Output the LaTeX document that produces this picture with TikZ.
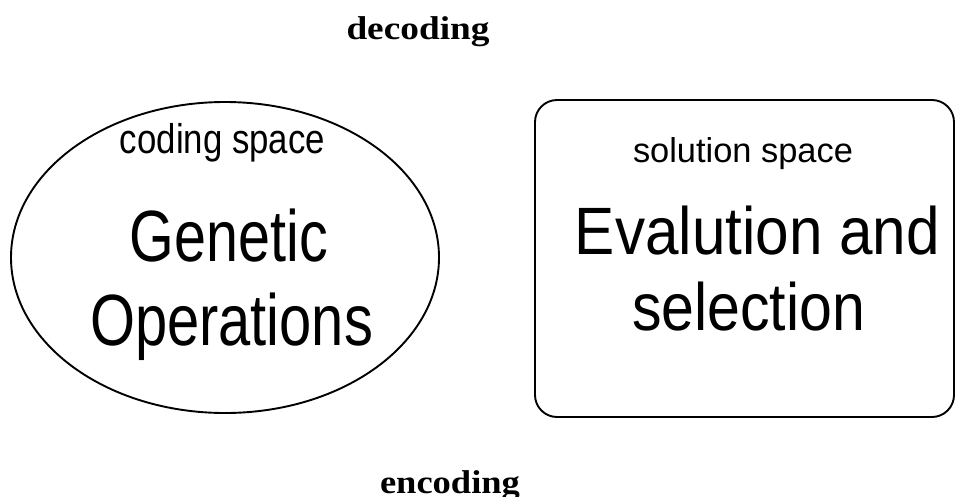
\documentclass[tikz,border=0pt]{standalone}
\usepackage{fontspec}
\usepackage{graphicx}
\setmainfont{Liberation Serif}
\setsansfont{Liberation Sans}
\usetikzlibrary{shapes.geometric}

% \fitted{width}{size}{text}: text at the given size, stretched to the given width
\newcommand{\fitted}[3]{\resizebox{#1pt}{\height}{\fontsize{#2pt}{#2pt}\selectfont #3}}

\tikzset{
  outline/.style={draw=black, line width=1.9pt},
  lbl/.style={inner sep=0pt, outer sep=0pt, anchor=base},
  sanslbl/.style={lbl, font=\sffamily},
  seriflbl/.style={lbl, font=\rmfamily\bfseries},
}

\begin{document}
\begin{tikzpicture}[x=1pt, y=-1pt]
  \useasboundingbox (0,0) rectangle (956,496);
  \fill[white] (0,0) rectangle (956,496);

  % the two spaces
  \node[outline, ellipse, minimum width=428pt, minimum height=311pt, inner sep=0pt]
    (codingspace) at (225,257.5) {};
  \node[outline, rectangle, rounded corners=22pt, minimum width=419pt, minimum height=317pt, inner sep=0pt]
    (solutionspace) at (744.5,258.5) {};

  % labels of the coding space
  \node[sanslbl] (codinglbl) at (222.5,153.3) {\fitted{205}{41.5}{coding space}};
  \node[sanslbl] (genetic)   at (229,261)     {\fitted{198}{72.6}{Genetic}};
  \node[sanslbl] (operations) at (231.5,345.5) {\fitted{283}{72.6}{Operations}};

  % labels of the solution space
  \node[sanslbl] (solutionlbl) at (743,162.3) {\fitted{220}{34.5}{solution space}};
  \node[sanslbl] (evaluation)  at (757.5,254) {\fitted{365}{67}{Evalution and}};
  \node[sanslbl] (selection)   at (748.5,330) {\fitted{233}{67}{selection}};

  % mapping labels
  \node[seriflbl] (decoding) at (418,39.3)  {\fitted{143}{33}{decoding}};
  \node[seriflbl] (encoding) at (450,493.7) {\fitted{140}{33}{encoding}};
\end{tikzpicture}
\end{document}
